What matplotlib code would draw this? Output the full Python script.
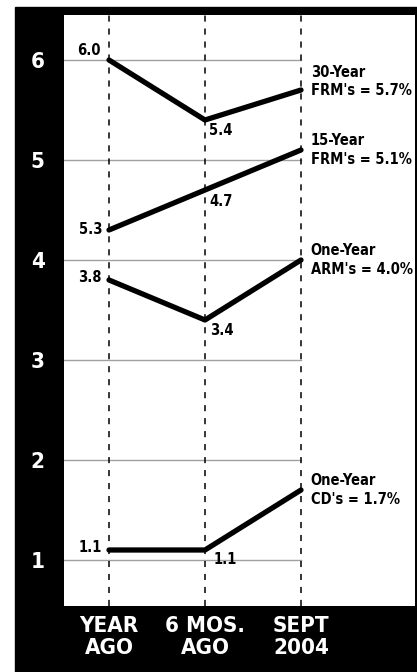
import matplotlib.pyplot as plt
from matplotlib.patches import Rectangle

# Dados
periods = ["YEAR\nAGO", "6 MOS.\nAGO", "SEPT\n2004"]
x = [0, 1, 2]

frm30 = [6.0, 5.4, 5.7]
frm15 = [4.3, 4.7, 5.1]          # as drawn in the original chart
arm1 = [3.8, 3.4, 4.0]
cd1 = [1.1, 1.1, 1.7]

frm30_labels = ["6.0", "5.4"]
frm15_labels = ["5.3", "4.7"]    # as printed in the original chart
arm1_labels = ["3.8", "3.4"]
cd1_labels = ["1.1", "1.1"]

end_labels = ["30-Year\nFRM's = 5.7%", "15-Year\nFRM's = 5.1%",
              "One-Year\nARM's = 4.0%", "One-Year\nCD's = 1.7%"]
yticks = [1, 2, 3, 4, 5, 6]

plt.rcParams['font.family'] = ['DejaVu Sans']
plt.rcParams['font.stretch'] = 'condensed'

W, H = 417, 672
fig = plt.figure(figsize=(W / 100, H / 100), dpi=100, facecolor="white")
fig.patches.append(Rectangle((15 / W, 0), 1 - 15 / W, 1 - 7 / H,
                             transform=fig.transFigure, color="black", zorder=-5))

ax = fig.add_axes([64 / W, 1 - 606 / H, (415 - 64) / W, (606 - 15) / H])
ax.set_zorder(1)
ax.set_facecolor("white")
for s in ax.spines.values():
    s.set_visible(False)

x0 = -(109 - 64) / 96
ax.set_xlim(x0, x0 + (415 - 64) / 96)
ax.set_ylim(6 - (606 - 60) / 100, 6 + (60 - 15) / 100)

# grade
for yv in yticks:
    ax.plot([x0, 2], [yv, yv], color="#a0a0a0", lw=1, zorder=1)
for xv in x:
    ax.axvline(xv, color="black", lw=1.1, ls=(0, (4, 4.5)), zorder=2)

series = [frm30, frm15, arm1, cd1]
labels = [frm30_labels, frm15_labels, arm1_labels, cd1_labels]
for ys in series:
    ax.plot(x, ys, color="black", lw=3.8, solid_capstyle="round",
            solid_joinstyle="round", zorder=3)

# rótulos dos pontos: (dx, dy) em pontos, ha, va
left_off = [(-6, 1.5, "right", "bottom"), (-5, 0, "right", "center"),
            (-5, 1.5, "right", "center"), (-5, 2, "right", "center")]
mid_off = [(3, -2, "left", "top"), (3, -3, "left", "top"),
           (4, -2, "left", "top"), (6, -1.5, "left", "top")]
for ys, lab, lo, mo in zip(series, labels, left_off, mid_off):
    ax.annotate(lab[0], (x[0], ys[0]), xytext=lo[:2], textcoords="offset points",
                ha=lo[2], va=lo[3], fontsize=10.5, fontweight="bold", zorder=4)
    ax.annotate(lab[1], (x[1], ys[1]), xytext=mo[:2], textcoords="offset points",
                ha=mo[2], va=mo[3], fontsize=10.5, fontweight="bold", zorder=4)

end_dy = [6, 0, 0, 0]
for ys, txt, dy in zip(series, end_labels, end_dy):
    ax.annotate(txt, (x[2], ys[2]), xytext=(7, dy), textcoords="offset points",
                ha="left", va="center", fontsize=10.5, fontweight="bold",
                linespacing=1.3, zorder=4)

ax.set_yticks(yticks)
ax.set_yticklabels([str(v) for v in yticks], color="white", fontsize=16,
                   fontweight="bold")
ax.set_xticks(x)
ax.set_xticklabels(periods, color="white", fontsize=16, fontweight="bold",
                   linespacing=1.15)
ax.tick_params(axis="y", length=0, pad=14)
ax.tick_params(axis="x", length=0, pad=7)

fig.savefig("out.png", dpi=100, facecolor="white")
